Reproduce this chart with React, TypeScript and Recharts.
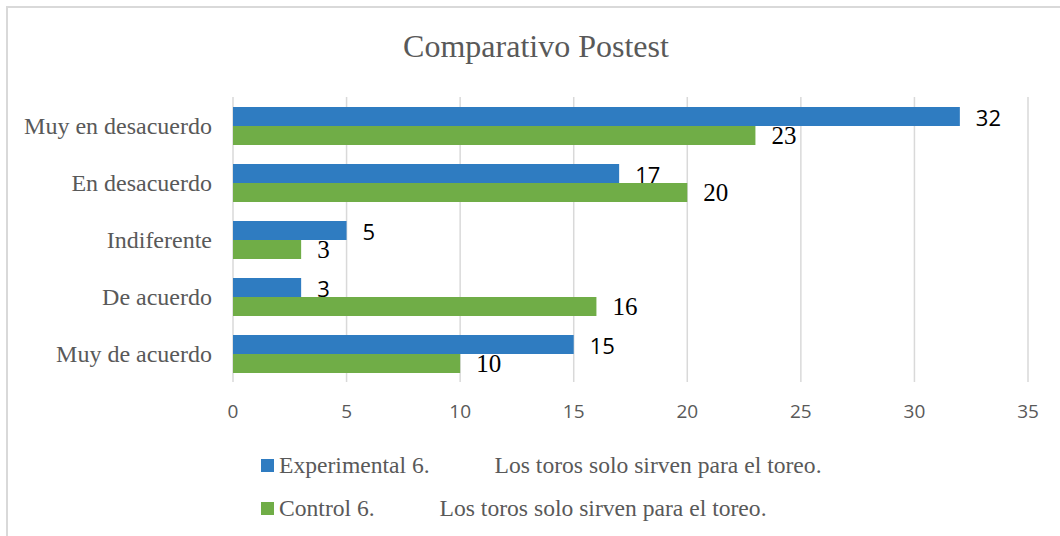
import { Bar, BarChart, CartesianGrid, LabelList, XAxis, YAxis } from "recharts";

const categories = ["Muy en desacuerdo", "En desacuerdo", "Indiferente", "De acuerdo", "Muy de acuerdo"];
const experimental = [32, 17, 5, 3, 15];
const control = [23, 20, 3, 16, 10];
const xTicks = [0, 5, 10, 15, 20, 25, 30, 35];

const SERIF = "'Liberation Serif', 'Times New Roman', serif";
const SANS = "'Open Sans', sans-serif";

const series = [
  { key: "experimental", name: "Experimental 6.", color: "#2F7CC1", labelFont: SANS, labelSize: 22 },
  { key: "control", name: "Control 6.", color: "#70AD47", labelFont: SERIF, labelSize: 25 },
];
const legendGap = "           ";
const legendSuffix = "Los toros solo sirven para el toreo.";

const data = categories.map((c, i) => ({
  category: c,
  experimental: experimental[i],
  control: control[i],
}));

function valueLabel(font: string, size: number) {
  return (props: any) => {
    const { x, y, width, height, value } = props;
    return (
      <text
        x={Number(x) + Number(width) + 16}
        y={Number(y) + Number(height) / 2}
        dominantBaseline="central"
        fill="#000"
        fontSize={size}
        fontFamily={font}
        style={{ fontFamily: font, fontSize: size }}
      >
        {value}
      </text>
    );
  };
}

export default function App() {
  return (
    <div style={{ position: "relative", width: 1060, height: 536, background: "#fff", overflow: "hidden" }}>
      <style>{"body{margin:0}"}</style>
      <div
        style={{
          position: "absolute",
          left: 6,
          top: 6,
          width: 1100,
          height: 600,
          borderLeft: "2px solid #d9d9d9",
          borderTop: "2px solid #d9d9d9",
        }}
      />
      <div
        style={{
          position: "absolute",
          left: 0,
          width: 1072,
          top: 26,
          textAlign: "center",
          fontFamily: SERIF,
          fontSize: 32,
          color: "#595959",
          lineHeight: "40px",
        }}
      >
        Comparativo Postest
      </div>
      <div style={{ position: "absolute", left: 0, top: 0 }}>
        <BarChart
          width={1060}
          height={536}
          data={data}
          layout="vertical"
          margin={{ top: 97, right: 32, bottom: 124, left: 0 }}
          barSize={19}
          barGap={0}
        >
          <CartesianGrid horizontal={false} stroke="#d9d9d9" strokeWidth={1.5} />
          <XAxis
            type="number"
            domain={[0, 35]}
            ticks={xTicks}
            axisLine={false}
            tickLine={false}
            tickMargin={17}
            height={30}
            tick={{ fill: "#595959", fontSize: 19, fontFamily: SANS }}
          />
          <YAxis
            type="category"
            dataKey="category"
            width={233}
            axisLine={false}
            tickLine={false}
            tickMargin={15}
            tick={{ fill: "#595959", fontSize: 24, fontFamily: SERIF }}
          />
          {series.map((s) => (
            <Bar key={s.key} dataKey={s.key} name={s.name} fill={s.color} isAnimationActive={false}>
              <LabelList dataKey={s.key} content={valueLabel(s.labelFont, s.labelSize)} />
            </Bar>
          ))}
        </BarChart>
      </div>
      <div style={{ position: "absolute", left: 261, top: 444 }}>
        {series.map((s) => (
          <div
            key={s.key}
            style={{
              display: "flex",
              alignItems: "center",
              height: 43,
              fontFamily: SERIF,
              fontSize: 23.6,
              color: "#595959",
              whiteSpace: "pre",
            }}
          >
            <span style={{ width: 13, height: 13, background: s.color, marginRight: 5, display: "inline-block" }} />
            <span>{s.name + legendGap + legendSuffix}</span>
          </div>
        ))}
      </div>
    </div>
  );
}
